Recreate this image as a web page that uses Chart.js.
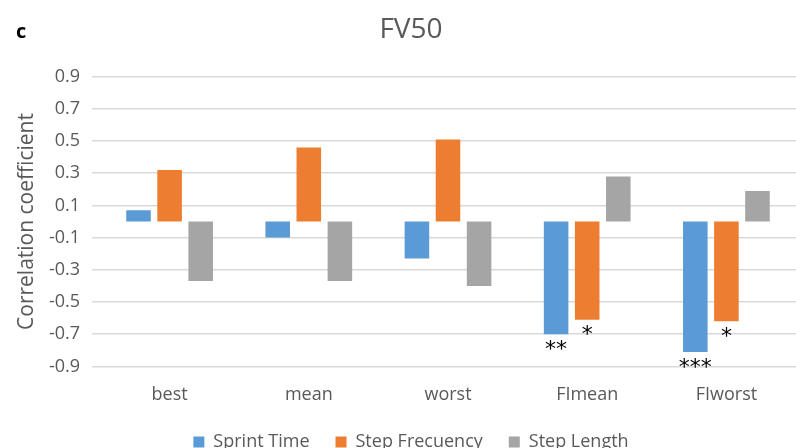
<!DOCTYPE html>
<html>
<head>
<meta charset="utf-8">
<script src="https://cdn.jsdelivr.net/npm/chart.js@4.4.1/dist/chart.umd.min.js"></script>
<style>
  html, body { margin: 0; padding: 0; background: #fff; }
  #wrap { width: 796px; height: 448px; }
</style>
</head>
<body>
<div id="wrap"><canvas id="chart" width="796" height="448"></canvas></div>
<script>
// FV50 correlation chart (right edge of the plot is cropped, as in the figure)
const categories = ['best', 'mean', 'worst', 'FImean', 'FIworst'];
const sprintTime = [0.07, -0.10, -0.23, -0.70, -0.81];
const stepFrequency = [0.32, 0.46, 0.51, -0.61, -0.62];
const stepLength = [-0.37, -0.37, -0.40, 0.28, 0.19];
const yTicks = [-0.9, -0.7, -0.5, -0.3, -0.1, 0.1, 0.3, 0.5, 0.7, 0.9];
// significance marks: [dataset index, category index, text]
const marks = [[0, 3, '**'], [1, 3, '*'], [0, 4, '***'], [1, 4, '*']];

const grey = '#595959';
const font = 'Open Sans';

const extras = {
    id: 'extras',
    afterDatasetsDraw(chart) {
        const c = chart.ctx;
        c.save();
        c.fillStyle = '#000';
        c.textAlign = 'center';
        c.textBaseline = 'middle';
        c.font = '22px "DejaVu Sans"';
        marks.forEach(([ds, i, txt]) => {
            const bar = chart.getDatasetMeta(ds).data[i];
            c.fillText(txt, bar.x, bar.y + 16);
        });
        c.font = 'bold 20px "Open Sans"';
        c.textAlign = 'left';
        c.fillText('c', 16, 32);
        c.restore();
    }
};

new Chart(document.getElementById('chart'), {
    type: 'bar',
    data: {
        labels: categories,
        datasets: [
            { label: 'Sprint Time', data: sprintTime, backgroundColor: '#5B9BD5' },
            { label: 'Step Frecuency', data: stepFrequency, backgroundColor: '#ED7D31' },
            { label: 'Step Length', data: stepLength, backgroundColor: '#A5A5A5' }
        ]
    },
    options: {
        responsive: false,
        animation: false,
        categoryPercentage: 0.67,
        barPercentage: 0.79,
        layout: { padding: { left: 12, right: -14, top: 0, bottom: -13 } },
        plugins: {
            title: {
                display: true, text: 'FV50', color: grey,
                font: { family: font, size: 28, weight: 'normal' },
                padding: { top: 13, bottom: 30 }
            },
            legend: {
                position: 'bottom',
                labels: { color: grey, font: { family: font, size: 18 }, boxWidth: 11, boxHeight: 11, padding: 26 }
            },
            tooltip: { enabled: false }
        },
        scales: {
            x: {
                grid: { display: false },
                border: { display: false },
                ticks: { color: grey, font: { family: font, size: 18 }, padding: 10 },
                afterFit: axis => { axis.height -= 9; }
            },
            y: {
                min: -0.9, max: 0.9,
                afterBuildTicks: axis => { axis.ticks = yTicks.map(v => ({ value: v })); },
                afterFit: axis => { axis.width = 88; },
                grid: { color: '#d9d9d9', lineWidth: 1.5 },
                border: { display: false },
                ticks: { color: grey, font: { family: font, size: 18 }, padding: 12 },
                title: { display: true, text: 'Correlation coefficient', color: grey, font: { family: font, size: 21 }, padding: 2 }
            }
        }
    },
    plugins: [extras]
});
</script>
</body>
</html>
